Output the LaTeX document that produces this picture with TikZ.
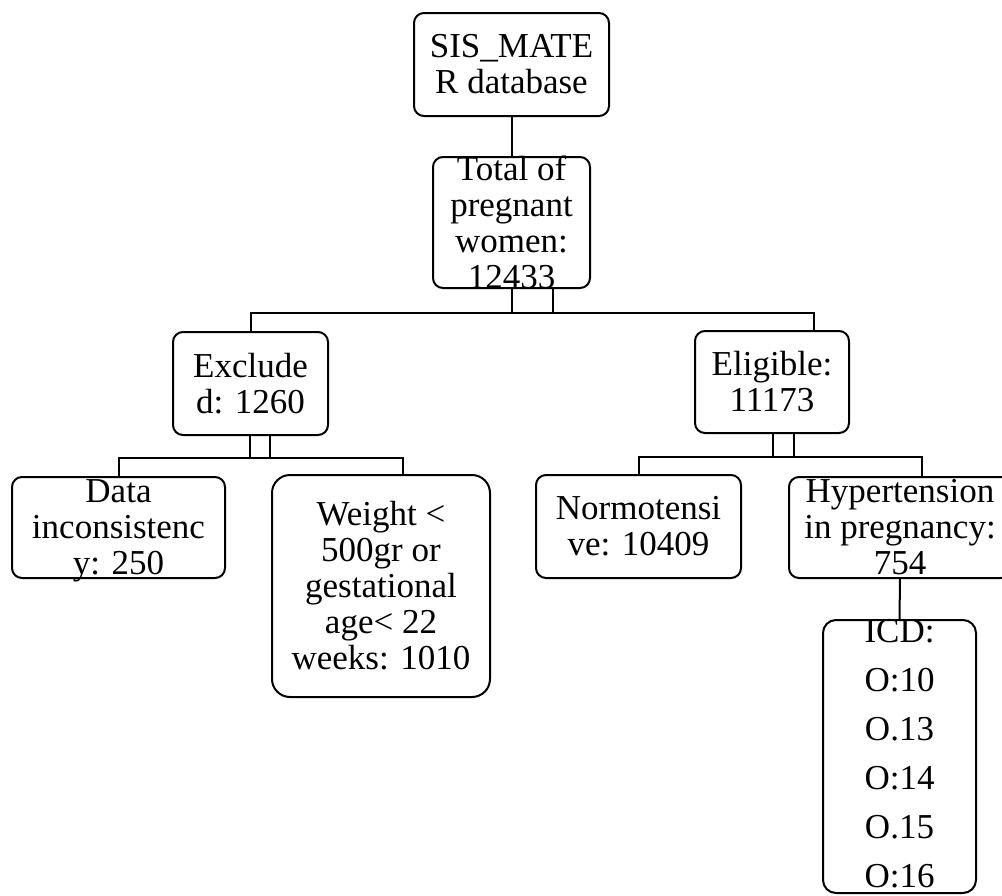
\documentclass[tikz,border=0pt]{standalone}
\usepackage{fontspec}
\setmainfont{Liberation Serif}
\begin{document}
\begin{tikzpicture}[x=1pt,y=-1pt,
  box/.style={draw,line width=2pt,rounded corners=10pt,inner sep=0pt},
  txt/.style={inner sep=0pt,align=center,font=\fontsize{35}{36}\selectfont},
  conn/.style={line width=2pt}]
\useasboundingbox (0,0) rectangle (1002,895);
% boxes
\node[box,minimum width=195pt,minimum height=103pt] (sis) at (511.5,64.5) {};
\node[box,minimum width=157pt,minimum height=131pt] (total) at (511.5,222.5) {};
\node[box,minimum width=155pt,minimum height=103pt] (excl) at (250.5,383.5) {};
\node[box,minimum width=154pt,minimum height=102pt] (elig) at (772,382) {};
\node[box,minimum width=213pt,minimum height=101pt] (data) at (118.5,527.5) {};
\node[box,rounded corners=18pt,minimum width=218pt,minimum height=222pt] (weight) at (381,586) {};
\node[box,minimum width=205pt,minimum height=103pt] (normo) at (638.5,526.5) {};
\node[box,minimum width=222pt,minimum height=101pt] (hyper) at (900,527.5) {};
\node[box,rounded corners=13pt,minimum width=153pt,minimum height=273pt] (icd) at (899.5,756.5) {};
% texts
\node[txt] (sist) at (sis.center) {SIS\_MATE\\R database};
\node[txt] (totalt) at (total.center) {Total of\\pregnant\\women:\\12433};
\node[txt] (exclt) at (excl.center) {Exclude\\d: 1260};
\node[txt] (eligt) at (elig.center) {Eligible:\\11173};
\node[txt] (datat) at ([yshift=-3pt]data.center) {Data\\inconsistenc\\y: 250};
\node[txt] (weightt) at (weight.center) {Weight <\\500gr or\\gestational\\age< 22\\weeks: 1010};
\node[txt] (normot) at (normo.center) {Normotensi\\ve: 10409};
\node[txt] (hypert) at (hyper.center) {Hypertension\\in pregnancy:\\754};
\node[txt,font=\fontsize{35}{49}\selectfont] (icdt) at ([yshift=3pt]icd.center) {ICD:\\O:10\\O.13\\O:14\\O.15\\O:16};
% bus coordinates
\coordinate (b1L) at (250.5,313);
\coordinate (b1R) at (814,313);
\coordinate (b1a) at (512,313);
\coordinate (b1b) at (553,313);
\coordinate (b2L) at (118.5,458);
\coordinate (b2R) at (403,458);
\coordinate (b2a) at (250,458);
\coordinate (b2b) at (270,458);
\coordinate (b3L) at (638.5,457);
\coordinate (b3R) at (922,457);
\coordinate (b3a) at (773,457);
\coordinate (b3b) at (794,457);
% connectors
\draw[conn] (sis.south) -- (total.north);
\draw[conn] (total.south -| b1a) -- (b1a);
\draw[conn] (total.south -| b1b) -- (b1b);
\draw[conn] (excl.north) -- (b1L) -- (b1R) -- (elig.north -| b1R);
\draw[conn] (excl.south -| b2a) -- (b2a);
\draw[conn] (excl.south -| b2b) -- (b2b);
\draw[conn] (data.north) -- (b2L) -- (b2R) -- (weight.north -| b2R);
\draw[conn] (elig.south -| b3a) -- (b3a);
\draw[conn] (elig.south -| b3b) -- (b3b);
\draw[conn] (normo.north) -- (b3L) -- (b3R) -- (hyper.north -| b3R);
\draw[conn] (hyper.south) -- (icd.north);
\end{tikzpicture}
\end{document}
